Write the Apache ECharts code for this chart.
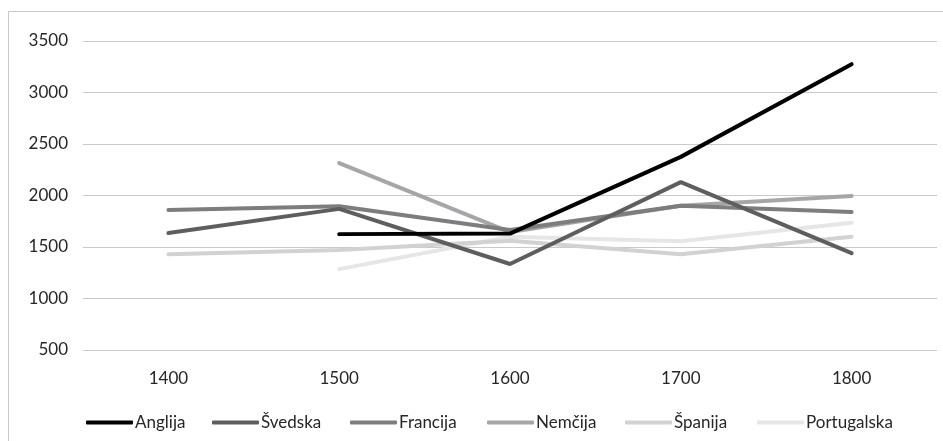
<!DOCTYPE html>
<html>
<head>
<meta charset="utf-8">
<script src="https://cdn.jsdelivr.net/npm/echarts@6/dist/echarts.min.js"></script>
<style>
  html, body { margin: 0; padding: 0; background: #fff; }
  #chart { width: 943px; height: 441px; }
</style>
</head>
<body>
<div id="chart"></div>
<script>
// stoletja
const years = ["1400", "1500", "1600", "1700", "1800"];
const anglija = [null, 1625, 1630, 2375, 3275];
const svedska = [1635, 1870, 1335, 2130, 1440];
const francija = [1860, 1895, 1665, 1900, 1840];
const nemcija = [null, 2315, 1645, 1900, 1995];
const spanija = [1430, 1470, 1560, 1430, 1600];
const portugalska = [null, 1285, 1600, 1555, 1735];

const names = ["Anglija", "Švedska", "Francija", "Nemčija", "Španija", "Portugalska"];
const colors = ["#000000", "#5e5e5e", "#7d7d7f", "#a6a6a8", "#d2d2d2", "#e6e6e6"];
const values = [anglija, svedska, francija, nemcija, spanija, portugalska];
// legenda - leve pozicije posameznih elementov
const legendLeft = [81, 207, 345, 482, 620, 752];

var myChart = echarts.init(document.getElementById("chart"));
let option = {
  color: colors,
  textStyle: { fontFamily: "Lato" },
  graphic: [
    {
      type: "rect",
      shape: { x: 8.5, y: 11.5, width: 1000, height: 1000 },
      style: { fill: "none", stroke: "#c8c8c8", lineWidth: 1 },
      silent: true
    }
  ],
  legend: names.map((n, i) => ({
    data: [{ name: n, icon: "roundRect" }],
    left: legendLeft[i],
    top: 409,
    itemWidth: 47,
    itemHeight: 4,
    textStyle: { color: "#262626", fontSize: 17, fontFamily: "Lato", padding: [0, 0, 0, -3] }
  })),
  grid: { left: 83, right: 6, top: 41, bottom: 91 },
  xAxis: {
    type: "category",
    data: years,
    axisLine: { show: false },
    axisTick: { show: false },
    axisLabel: { color: "#262626", fontSize: 17, margin: 20 }
  },
  yAxis: {
    type: "value",
    min: 500,
    max: 3500,
    interval: 500,
    axisLine: { show: false },
    axisTick: { show: false },
    axisLabel: {
      color: "#262626",
      fontSize: 17,
      margin: 15,
      formatter: function(v) {
        return String(v);
      }
    },
    splitLine: { lineStyle: { color: "#c9c9c9", width: 1 } }
  },
  series: names.map((n, i) => ({
    name: n,
    type: "line",
    data: values[i],
    symbol: "none",
    lineStyle: { width: 4, color: colors[i], cap: "round" },
    itemStyle: { color: colors[i] },
    z: 10 - i
  }))
};
myChart.setOption(option);
</script>
</body>
</html>
